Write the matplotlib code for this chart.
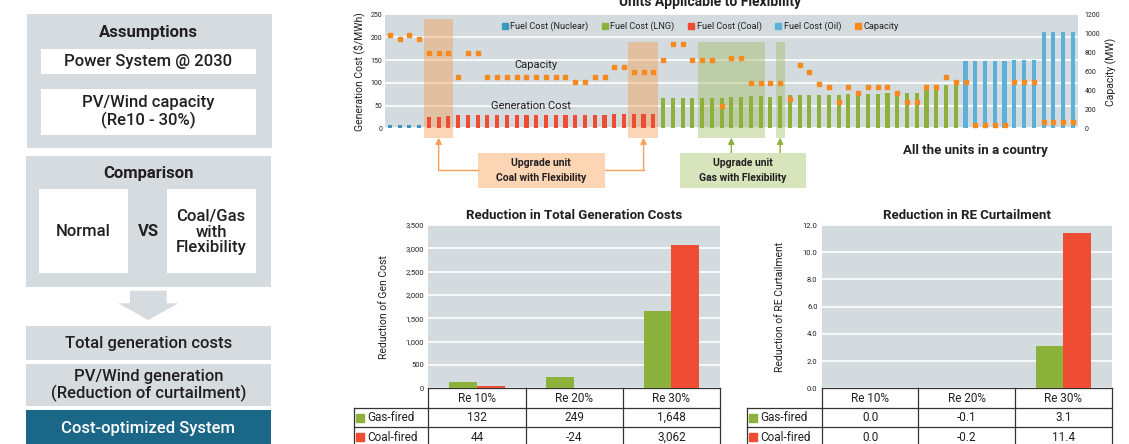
import numpy as np
import matplotlib.pyplot as plt
import matplotlib.transforms as mtransforms
from matplotlib.patches import Rectangle, Polygon
from matplotlib.lines import Line2D

plt.rcParams['font.family'] = ['Roboto', 'DejaVu Sans']

# ---- top chart: every unit in the country, sorted by generation cost
nuclear_cost = [8, 8, 8, 8]
coal_cost = [25, 25, 27, 29, 29, 29, 29, 29, 29, 29, 29, 29, 29, 29, 29, 29,
             29, 29, 29, 31, 31, 31, 31, 31]
lng_cost = [67, 67, 67, 67, 67, 67, 67, 68.5, 68.5, 70.5, 70.5, 70, 70.5, 73,
            73, 73, 73, 73, 73, 75, 75, 75, 75, 77, 77, 77, 77, 86, 86, 95, 98.5]
oil_cost = [148, 148, 148, 148, 148, 151, 151, 151, 212, 212, 212, 212]

nuclear_cap = [985, 940, 985, 940]
coal_cap = [795, 795, 795, 545, 795, 795, 545, 545, 545, 545, 545, 545, 545,
            545, 545, 490, 490, 545, 545, 648, 648, 597, 597, 597]
lng_cap = [720, 890, 890, 720, 720, 720, 235, 744, 744, 481, 481, 481, 481,
           309, 668, 597, 468, 437, 283, 437, 374, 437, 437, 437, 374, 283,
           283, 437, 437, 544, 490]
oil_cap = [490, 35, 35, 35, 35, 490, 490, 490, 70, 70, 70, 70]

# units picked for the flexibility upgrade (first / last unit index)
coal_upgrade = [(4, 6), (25, 27)]
gas_upgrade = [(32, 38), (40, 40)]

# ---- bottom charts
scenarios = ['Re 10%', 'Re 20%', 'Re 30%']
gen_cost_gas = [132, 249, 1648]
gen_cost_coal = [44, -24, 3062]
curtail_gas = [0.0, -0.1, 3.1]
curtail_coal = [0.0, -0.2, 11.4]

W, H = 1129, 444
BG = '#d4dbdf'
C_NUC, C_LNG, C_COAL, C_OIL, C_CAP = '#3d96c0', '#8cb23c', '#ef4c34', '#5bb1da', '#f6891f'
TXT = '#231f20'


def frac(l, t, r, b):
    return [l / W, 1 - b / H, (r - l) / W, (b - t) / H]


fig = plt.figure(figsize=(W / 100, H / 100), dpi=100)

# ================= top chart =================
ax = fig.add_axes(frac(385, 14.5, 1077.7, 128.5))
ax.set_facecolor(BG)
n_nuc, n_coal, n_lng, n_oil = len(nuclear_cost), len(coal_cost), len(lng_cost), len(oil_cost)
x_nuc = np.arange(n_nuc)
x_coal = np.arange(n_coal) + n_nuc
x_lng = np.arange(n_lng) + n_nuc + n_coal
x_oil = np.arange(n_oil) + n_nuc + n_coal + n_lng
bw = 0.42
ax.bar(x_nuc, nuclear_cost, bw, color=C_NUC, zorder=3)
ax.bar(x_coal, coal_cost, bw, color=C_COAL, zorder=3)
ax.bar(x_lng, lng_cost, bw, color=C_LNG, zorder=3)
ax.bar(x_oil, oil_cost, bw, color=C_OIL, zorder=3)
n_all = n_nuc + n_coal + n_lng + n_oil
ax.set_xlim(-0.5, n_all - 0.5)
ax.set_ylim(0, 250)
ax.set_yticks(range(0, 251, 50))
ax.set_xticks([])
ax.yaxis.grid(True, color='white', lw=1.2)
ax.set_axisbelow(True)
ax.tick_params(axis='y', length=0, labelsize=5, colors=TXT, pad=2)
for s in ax.spines.values():
    s.set_visible(False)
ax.set_ylabel('Generation Cost ($/MWh)', fontsize=7.5, color=TXT, labelpad=4)

px = 250 / 114.0  # data units per pixel
y_box_bot = -9.2 * px
for (a, b), top in zip(coal_upgrade, [240, 189]):
    ax.add_patch(Rectangle((a - 0.55, y_box_bot), b - a + 1.05, top - y_box_bot,
                           color='#f79848', alpha=0.4, lw=0, zorder=2, clip_on=False))
for (a, b) in gas_upgrade:
    ax.add_patch(Rectangle((a - 0.45, y_box_bot), b - a + 0.9, 189 - y_box_bot,
                           color='#9db95a', alpha=0.4, lw=0, zorder=2, clip_on=False))

ax2 = ax.twinx()
cap_x = np.concatenate([x_nuc, x_coal, x_lng, x_oil])
cap_y = nuclear_cap + coal_cap + lng_cap + oil_cap
ax2.plot(cap_x, cap_y, 's', ms=3.4, color=C_CAP, ls='none', zorder=5)
ax2.set_ylim(0, 1200)
ax2.set_yticks(range(0, 1201, 200))
ax2.tick_params(axis='y', length=0, labelsize=5, colors=TXT, pad=5)
for s in ax2.spines.values():
    s.set_visible(False)
ax2.set_ylabel('Capacity (MW)', fontsize=7.5, color=TXT, labelpad=4)

handles = [Line2D([], [], marker='s', ls='none', color=c, ms=4.3)
           for c in [C_NUC, C_LNG, C_COAL, C_OIL, C_CAP]]
labels = ['Fuel Cost (Nuclear)', 'Fuel Cost (LNG)', 'Fuel Cost (Coal)',
          'Fuel Cost (Oil)', 'Capacity']
ax2.legend(handles, labels, loc='center', bbox_to_anchor=(0.455, 0.898), ncol=5,
           frameon=False, fontsize=6.6, handlelength=0.6, handletextpad=0.3,
           columnspacing=1.5, labelcolor=TXT)

ax.text(15.0, 139, 'Capacity', fontsize=8, color=TXT, ha='center', va='center', zorder=6)
ax.text(14.5, 49, 'Generation Cost', fontsize=8, color=TXT, ha='center', va='center', zorder=6)
ax.text(60, -49, 'All the units in a country', fontsize=9.5, weight='bold',
        color=TXT, ha='center', va='center', clip_on=False)

# call-out boxes and arrows
y_cb_top, y_cb_bot = -24.5 * px, -59.5 * px
y_mid = (y_cb_top + y_cb_bot) / 2
for (x0, x1, fc, ec, label) in [(9.0, 22.0, '#fcd5b4', '#f5a05a', 'Upgrade unit\nCoal with Flexibility'),
                                (29.7, 42.7, '#d7e4bc', '#8cb23c', 'Upgrade unit\nGas with Flexibility')]:
    ax.add_patch(Rectangle((x0, y_cb_bot), x1 - x0, y_cb_top - y_cb_bot, color=fc,
                           lw=0, clip_on=False, zorder=4))
    ax.text((x0 + x1) / 2, y_mid, label, fontsize=7.5, weight='bold', color=TXT,
            ha='center', va='center', linespacing=1.6, clip_on=False, zorder=5)

arr = dict(arrowstyle='-|>', lw=1.0, mutation_scale=9, shrinkA=0, shrinkB=0)
for (a, b), side in zip(coal_upgrade, [9.0, 22.0]):
    xc = (a + b) / 2
    ax.plot([side, xc], [y_mid, y_mid], color='#f5a05a', lw=1.0, clip_on=False, zorder=4)
    ax.annotate('', xy=(xc, y_box_bot), xytext=(xc, y_mid), annotation_clip=False,
                arrowprops=dict(arr, color='#f5a05a'))
for (a, b) in gas_upgrade:
    xc = (a + b) / 2
    ax.annotate('', xy=(xc, y_box_bot), xytext=(xc, y_cb_top), annotation_clip=False,
                arrowprops=dict(arr, color='#8cb23c'))

fig.text(710 / W, 1 - 6 / H, 'Units Applicable to Flexibility', fontsize=10,
         weight='bold', color=TXT, ha='center', va='baseline')


# ================= bottom charts with data tables =================
def bar_table(rect, title, gas, coal, ylim, yticks, fmt, ylabel, lab_x, ylab_x):
    a = fig.add_axes(frac(*rect))
    a.set_facecolor(BG)
    xs = np.arange(len(scenarios))
    a.bar(xs - 0.143, gas, 0.286, color=C_LNG, zorder=3)
    a.bar(xs + 0.143, coal, 0.286, color=C_COAL, zorder=3)
    a.set_xlim(-0.5, len(scenarios) - 0.5)
    a.set_ylim(*ylim)
    a.set_yticks(yticks)
    a.set_yticklabels([fmt(v) for v in yticks])
    a.set_xticks([])
    a.yaxis.grid(True, color='white', lw=1.2)
    a.set_axisbelow(True)
    a.tick_params(axis='y', length=0, labelsize=5.5, colors=TXT, pad=3)
    for k, s in a.spines.items():
        s.set_visible(k == 'bottom')
    a.spines['bottom'].set_color('#333333')
    a.spines['bottom'].set_linewidth(0.9)
    a.set_title(title, fontsize=9.5, weight='bold', color=TXT, pad=4)
    a.set_ylabel(ylabel, fontsize=7.5, color=TXT)
    a.yaxis.set_label_coords(ylab_x, 0.5)

    rh = 19.5 / (rect[3] - rect[1])
    bl = mtransforms.blended_transform_factory(a.transData, a.transAxes)
    lk = dict(color='#333333', lw=0.9, clip_on=False)
    for xb in np.arange(len(scenarios) + 1) - 0.5:
        a.plot([xb, xb], [0, -3.2 * rh], transform=bl, **lk)
    for k in (1, 2):
        a.plot([lab_x, 1], [-k * rh, -k * rh], transform=a.transAxes, **lk)
    a.plot([lab_x, lab_x], [-rh, -3.2 * rh], transform=a.transAxes, **lk)
    for i, s in enumerate(scenarios):
        a.text(i, -0.5 * rh, s, transform=bl, ha='center', va='center', fontsize=8.5, color=TXT)
        a.text(i, -1.5 * rh, fmt(gas[i]), transform=bl, ha='center', va='center', fontsize=8.5, color=TXT)
        a.text(i, -2.5 * rh, fmt(coal[i]), transform=bl, ha='center', va='center', fontsize=8.5, color=TXT)
    for k, (c, lab) in enumerate([(C_LNG, 'Gas-fired'), (C_COAL, 'Coal-fired')]):
        yk = -(1.5 + k) * rh
        a.plot([lab_x + 0.022], [yk], 's', ms=5.2, color=c, transform=a.transAxes, clip_on=False)
        a.text(lab_x + 0.045, yk, lab, transform=a.transAxes, ha='left', va='center',
               fontsize=8.5, color=TXT)
    return a


bar_table((428.3, 225, 720, 388.3), 'Reduction in Total Generation Costs',
          gen_cost_gas, gen_cost_coal, (0, 3500), list(range(0, 3501, 500)),
          lambda v: f'{v:,}', 'Reduction of Gen Cost', -0.2547, -0.135)
bar_table((821.7, 225, 1111.7, 388.3), 'Reduction in RE Curtailment',
          curtail_gas, curtail_coal, (0, 12), [0, 2, 4, 6, 8, 10, 12],
          lambda v: f'{v:.1f}', 'Reduction of RE Curtailment', -0.2586, -0.125)

# ================= left flow diagram =================
ov = fig.add_axes([0, 0, 1, 1])
ov.set_xlim(0, W)
ov.set_ylim(H, 0)
ov.axis('off')
GRAY = '#d5dbde'
cx = 148.3


def box(l, t, w, h, fc):
    ov.add_patch(Rectangle((l, t), w, h, color=fc, lw=0))


def label(x, y, s, weight='medium', color=TXT, ls=1.15):
    ov.text(x, y, s, ha='center', va='center', fontsize=12, weight=weight,
            color=color, linespacing=ls)


box(26.7, 14, 245, 134.3, GRAY)
label(cx, 32.3, 'Assumptions', 'bold')
box(41, 49, 214.7, 25, 'white')
label(cx, 61.5, 'Power System @ 2030')
box(41, 89, 214.7, 46, 'white')
label(cx, 112, 'PV/Wind capacity\n(Re10 - 30%)')

box(25.7, 156, 245, 130.7, GRAY)
label(cx, 173.3, 'Comparison', 'bold')
box(38.7, 189.3, 89, 83.4, 'white')
label(83.2, 231, 'Normal')
label(cx, 231, 'VS', 'bold')
box(166.7, 189.3, 89, 83.4, 'white')
label(211.2, 232, 'Coal/Gas\nwith\nFlexibility', ls=1.05)

ov.add_patch(Polygon([(130, 290.7), (166.7, 290.7), (166.7, 303.3), (178.3, 303.3),
                      (cx, 320), (118.3, 303.3), (130, 303.3)], closed=True,
                     color=GRAY, lw=0))

box(25.7, 326, 245, 34, GRAY)
label(cx, 343, 'Total generation costs')
box(25.7, 364, 245, 42, GRAY)
label(cx, 385.5, 'PV/Wind generation\n(Reduction of curtailment)', ls=1.05)
box(25.7, 410, 245, 40, '#1b6788')
label(cx, 428, 'Cost-optimized System', color='white')

fig.savefig('out.png', dpi=100)
